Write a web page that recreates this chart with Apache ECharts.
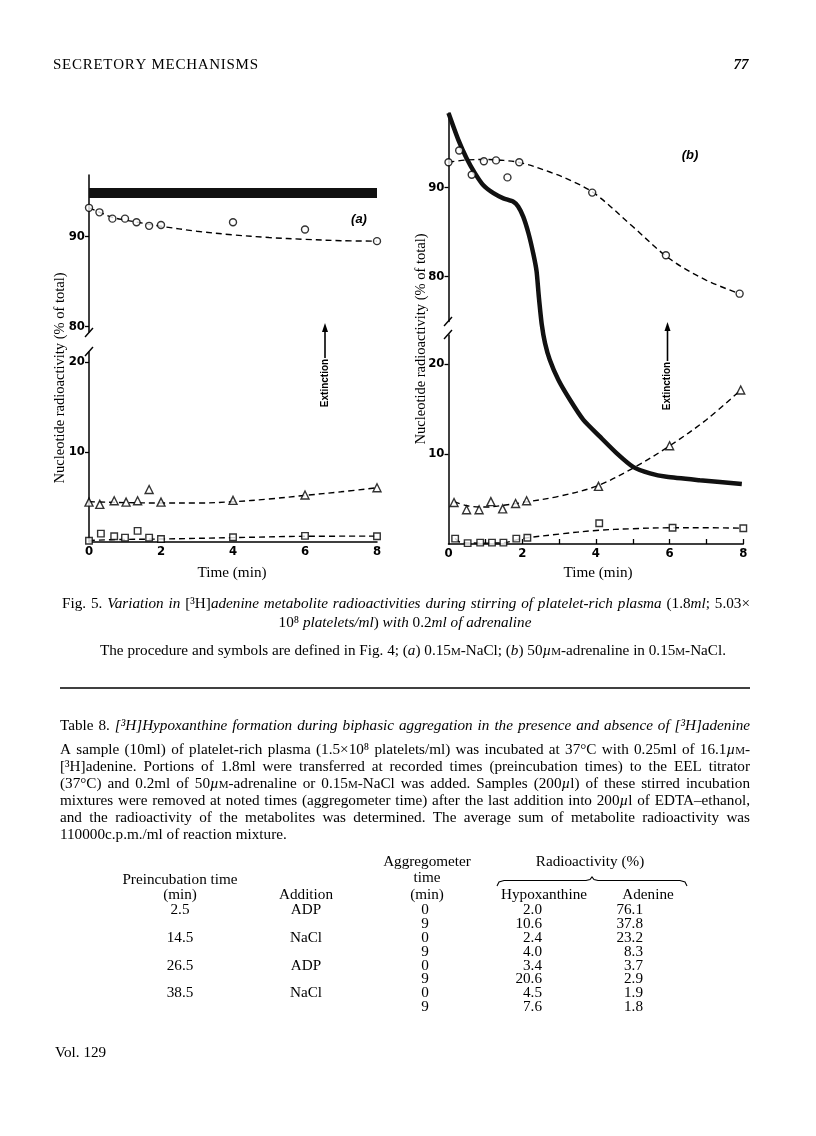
<!DOCTYPE html>
<html>
<head>
<meta charset="utf-8">
<title>Secretory mechanisms - Fig. 5</title>
<script src="https://cdn.jsdelivr.net/npm/echarts@6.0.0/dist/echarts.min.js"></script>
<style>
  html, body { margin: 0; padding: 0; background: #fff; }
  #page { width: 816px; height: 1136px; }
</style>
</head>
<body>
<div id="page"></div>
<script>
// ---------- data ----------
const timeTicks = [0, 2, 4, 6, 8];
const timeMinorTicksB = [1, 2, 3, 4, 5, 6, 7, 8];
const yTicksUpper = [80, 90];
const yTicksLower = [10, 20];

// (a) 0.15M-NaCl
const aCircles = [[0, 93.2], [0.29, 92.7], [0.65, 92.0], [1.0, 92.0], [1.32, 91.6], [1.67, 91.2], [2.0, 91.3], [4.0, 91.6], [6.0, 90.8], [8.0, 89.5]];
const aCircleFit = [[0, 93.2], [0.3, 92.7], [0.65, 92.15], [1.0, 91.85], [1.35, 91.6], [1.7, 91.35], [2.0, 91.15], [3.0, 90.6], [4.0, 90.2], [5.0, 89.9], [6.0, 89.7], [7.0, 89.55], [8.0, 89.5]];
const aTriangles = [[0, 4.4], [0.3, 4.15], [0.7, 4.55], [1.03, 4.4], [1.35, 4.55], [1.67, 5.8], [2.0, 4.4], [4.0, 4.6], [6.0, 5.2], [8.0, 6.0]];
const aTriangleFit = [[0, 4.45], [0.5, 4.4], [1.0, 4.35], [2.0, 4.3], [3.0, 4.3], [4.0, 4.45], [5.0, 4.75], [6.0, 5.15], [7.0, 5.55], [8.0, 6.0]];
const aSquares = [[0, 0.1], [0.33, 0.9], [0.7, 0.6], [1.0, 0.45], [1.35, 1.2], [1.67, 0.45], [2.0, 0.3], [4.0, 0.5], [6.0, 0.65], [8.0, 0.6]];
const aSquareFit = [[0, 0.15], [1.0, 0.25], [2.0, 0.3], [4.0, 0.45], [6.0, 0.6], [8.0, 0.62]];
// extinction trace, % of full panel height
const aExtinction = [[0, 95.1], [2, 95.1], [4, 95.1], [6, 95.1], [8, 95.1]];

// (b) 50uM-adrenaline
const bCircles = [[0, 92.8], [0.29, 94.1], [0.63, 91.4], [0.96, 92.9], [1.29, 93.0], [1.6, 91.1], [1.92, 92.8], [3.9, 89.4], [5.9, 82.4], [7.9, 78.1]];
const bCircleFit = [[0, 92.8], [0.5, 93.05], [1.0, 93.1], [1.5, 93.0], [2.0, 92.7], [2.75, 91.7], [3.4, 90.6], [4.0, 89.2], [5.0, 85.6], [6.0, 82.0], [7.0, 79.6], [7.9, 78.1]];
const bTriangles = [[0.15, 4.6], [0.49, 3.8], [0.83, 3.8], [1.15, 4.7], [1.47, 3.9], [1.82, 4.5], [2.12, 4.8], [4.07, 6.4], [6.0, 10.9], [7.93, 17.1]];
const bTriangleFit = [[0.15, 4.7], [0.5, 4.25], [1.0, 4.1], [1.5, 4.3], [2.0, 4.6], [3.0, 5.3], [4.0, 6.4], [5.0, 8.4], [6.0, 10.9], [7.0, 13.8], [7.93, 17.1]];
const bSquares = [[0.18, 0.6], [0.52, 0.1], [0.86, 0.15], [1.18, 0.15], [1.49, 0.15], [1.84, 0.6], [2.14, 0.7], [4.09, 2.3], [6.08, 1.8], [8.0, 1.75]];
const bSquareFit = [[0.18, 0.6], [0.35, 0.15], [1.0, 0.1], [1.5, 0.15], [2.0, 0.6], [3.0, 1.1], [4.0, 1.5], [5.0, 1.7], [6.0, 1.8], [7.0, 1.8], [8.0, 1.75]];
const bExtinction = [[0, 100], [0.27, 93.7], [0.49, 89.5], [0.72, 86.0], [0.94, 83.3], [1.22, 81.4], [1.49, 80.2], [1.76, 79.4], [1.89, 78.3], [2.03, 75.9], [2.17, 72.1], [2.3, 67.4], [2.39, 63.3], [2.45, 57.5], [2.53, 51.0], [2.62, 46.6], [2.75, 42.7], [2.98, 38.1], [3.3, 33.4], [3.66, 28.8], [4.11, 24.9], [4.56, 21.1], [5.01, 17.9], [5.47, 16.4], [5.92, 15.6], [6.82, 14.8], [7.96, 13.9]];

// Table 8
const preincubation = ['2.5', '14.5', '26.5', '38.5'];
const additions = ['ADP', 'NaCl', 'ADP', 'NaCl'];
const aggTimes = [0, 9, 0, 9, 0, 9, 0, 9];
const hypoxanthine = [2.0, 10.6, 2.4, 4.0, 3.4, 20.6, 4.5, 7.6];
const adenine = [76.1, 37.8, 23.2, 8.3, 3.7, 2.9, 1.9, 1.8];

// ---------- text ----------
const caption = [
  'Fig. 5. {i|Variation in} [³H]{i|adenine metabolite radioactivities during stirring of platelet-rich plasma} (1.8{i|ml}; 5.03×',
  '10⁸ {i|platelets/ml}) {i|with} 0.2{i|ml of adrenaline}'
];
const captionNote = 'The procedure and symbols are defined in Fig. 4; ({i|a}) 0.15{sc|M}-NaCl; ({i|b}) 50{i|µ}{sc|M}-adrenaline in 0.15{sc|M}-NaCl.';
const tableTitle = 'Table 8. {i|[³H]Hypoxanthine formation during biphasic aggregation in the presence and absence of [³H]adenine}';
const tableLegend = [
  'A sample (10ml) of platelet-rich plasma (1.5×10⁸ platelets/ml) was incubated at 37°C with 0.25ml of 16.1{i|µ}{sc|M}-',
  '[³H]adenine. Portions of 1.8ml were transferred at recorded times (preincubation times) to the EEL titrator',
  '(37°C) and 0.2ml of 50{i|µ}{sc|M}-adrenaline or 0.15{sc|M}-NaCl was added. Samples (200{i|µ}l) of these stirred incubation',
  'mixtures were removed at noted times (aggregometer time) after the last addition into 200{i|µ}l of EDTA–ethanol,',
  'and the radioactivity of the metabolites was determined. The average sum of metabolite radioactivity was',
  '110000c.p.m./ml of reaction mixture.'
];

const SERIF = '"Liberation Serif", "DejaVu Serif", serif';
const SANS = '"Liberation Sans", "DejaVu Sans", sans-serif';
const NARROW = '"Liberation Sans Narrow", "DejaVu Sans Condensed", "Liberation Sans", sans-serif';
const BODY = 15.2;
const BASE = { fontFamily: SERIF, fontSize: BODY, lineHeight: 17 };
const RICH = {
  i: { fontFamily: SERIF, fontSize: BODY, fontStyle: 'italic', lineHeight: 17 },
  sc: { fontFamily: SERIF, fontSize: 11, height: 14, lineHeight: 17, verticalAlign: 'bottom' }
};

// measure words so lines can be justified like the printed page
const mctx = document.createElement('canvas').getContext('2d');
function cssFont(st) {
  return [st.fontStyle || '', st.fontWeight || '', st.fontSize + 'px', st.fontFamily].join(' ').trim();
}
function measure(t, st) {
  mctx.font = cssFont(st);
  return mctx.measureText(t).width;
}
function textWidth(t, s) {
  return measure(t, s ? RICH[s] : BASE);
}
function parseRuns(str) {
  const runs = [];
  const re = /\{(\w+)\|([^}]*)\}/g;
  let last = 0, m;
  while ((m = re.exec(str))) {
    if (m.index > last) runs.push({ s: '', t: str.slice(last, m.index) });
    runs.push({ s: m[1], t: m[2] });
    last = re.lastIndex;
  }
  if (last < str.length) runs.push({ s: '', t: str.slice(last) });
  return runs;
}
function toWords(runs) {
  const words = [[]];
  runs.forEach(r => {
    r.t.split(' ').forEach((piece, i) => {
      if (i > 0) words.push([]);
      if (piece) words[words.length - 1].push({ s: r.s, t: piece });
    });
  });
  return words.filter(w => w.length);
}
// opt: {x0, x1} justified, {cx} centred, {x} left
function textLine(str, y, opt) {
  const words = toWords(parseRuns(str));
  const widths = words.map(w => w.reduce((a, p) => a + textWidth(p.t, p.s), 0));
  const total = widths.reduce((a, b) => a + b, 0);
  const space = textWidth(' ', '');
  let gap = space, x;
  if (opt.x1 != null) {
    x = opt.x0;
    gap = words.length > 1 ? (opt.x1 - opt.x0 - total) / (words.length - 1) : 0;
  } else if (opt.cx != null) {
    x = opt.cx - (total + space * (words.length - 1)) / 2;
  } else {
    x = opt.x;
  }
  return words.map((w, i) => {
    const el = {
      type: 'text', x: x, y: y, silent: true,
      style: Object.assign({
        text: w.map(p => p.s ? '{' + p.s + '|' + p.t + '}' : p.t).join(''),
        rich: RICH, fill: '#000', align: 'left', verticalAlign: 'middle'
      }, BASE)
    };
    x += widths[i] + gap;
    return el;
  });
}
// letter-spaced caps for the running head
function tracked(text, x0, x1, y, st) {
  const chars = Array.from(text);
  const widths = chars.map(c => measure(c, st));
  const total = widths.reduce((a, b) => a + b, 0);
  const gap = (x1 - x0 - total) / (chars.length - 1);
  let x = x0;
  return chars.map((c, i) => {
    const el = { type: 'text', x: x, y: y, silent: true, style: Object.assign({ text: c, fill: '#000', align: 'left', verticalAlign: 'middle' }, st) };
    x += widths[i] + gap;
    return el;
  });
}
function plainText(text, x, y, align, extra) {
  return {
    type: 'text', x: x, y: y, silent: true,
    style: Object.assign({ text: text, fill: '#000', align: align, verticalAlign: 'middle' }, BASE, extra || {})
  };
}
function seg(x1, y1, x2, y2, w) {
  return { type: 'line', silent: true, shape: { x1, y1, x2, y2 }, style: { stroke: '#000', lineWidth: w || 1.4 } };
}
function arrowUp(x, yTop, yBottom) {
  return [
    seg(x, yBottom, x, yTop + 6, 1.6),
    { type: 'polygon', silent: true, shape: { points: [[x, yTop], [x - 3, yTop + 9], [x + 3, yTop + 9]] }, style: { fill: '#000' } }
  ];
}

// ---------- chart ----------
const chart = echarts.init(document.getElementById('page'), null, { renderer: 'canvas' });

const axisLine = { show: true, onZero: false, lineStyle: { color: '#000', width: 1.5 } };
const tickLabel = { color: '#000', fontFamily: NARROW, fontWeight: 'bold', fontSize: 13 };

function grid(left, top, width, height) {
  return { left, top, width, height, containLabel: false, outerBoundsMode: 'none' };
}
function hiddenAxis(gridIndex, min, max) {
  return { type: 'value', gridIndex, min, max, show: false, splitLine: { show: false } };
}
function yAxisVisible(gridIndex, min, max, ticks) {
  return {
    type: 'value', gridIndex, min, max,
    axisLine: axisLine,
    axisTick: { show: true, length: 4, customValues: ticks, lineStyle: { color: '#000', width: 1.3 } },
    axisLabel: Object.assign({ customValues: ticks, margin: 4 }, tickLabel),
    splitLine: { show: false }
  };
}
function xAxisVisible(gridIndex, minorTicks) {
  return {
    type: 'value', gridIndex, min: 0, max: 8,
    axisLine: axisLine,
    axisTick: minorTicks ? { show: true, inside: true, length: 5, customValues: minorTicks, lineStyle: { color: '#000', width: 1.3 } } : { show: false },
    axisLabel: Object.assign({ customValues: timeTicks, margin: 3 }, tickLabel),
    splitLine: { show: false }
  };
}
function fit(data, axis) {
  return {
    type: 'line', xAxisIndex: axis, yAxisIndex: axis, data, smooth: 0.35,
    symbol: 'none', lineStyle: { color: '#000', width: 1.4, type: [6, 4] }, z: 2
  };
}
function marks(data, axis, symbol, size) {
  return {
    type: 'scatter', xAxisIndex: axis, yAxisIndex: axis, data, symbol, symbolSize: size,
    itemStyle: { color: '#fff', borderColor: '#000', borderWidth: 1.4 }, z: 4
  };
}
function trace(data, axis, width) {
  return {
    type: 'line', xAxisIndex: axis, yAxisIndex: axis, data, smooth: 0.2,
    symbol: 'none', lineStyle: { color: '#111', width: width, cap: 'butt' }, z: 3
  };
}

// grids: 0 a-upper, 1 a-lower, 2 a-extinction, 3 b-upper, 4 b-lower, 5 b-extinction
const option = {
  animation: false,
  backgroundColor: '#fff',
  grid: [
    grid(89, 175, 288, 157),
    grid(89, 352, 288, 189.7),
    grid(89, 175, 288, 366.7),
    grid(448.5, 113, 294.8, 208.4),
    grid(448.5, 335, 294.8, 209),
    grid(448.5, 113, 294.8, 431)
  ],
  xAxis: [
    hiddenAxis(0, 0, 8),
    xAxisVisible(1, null),
    hiddenAxis(2, 0, 8),
    hiddenAxis(3, 0, 8),
    xAxisVisible(4, timeMinorTicksB),
    hiddenAxis(5, 0, 8)
  ],
  yAxis: [
    yAxisVisible(0, 79.4, 96.85, yTicksUpper),
    yAxisVisible(1, 0, 21.1, yTicksLower),
    hiddenAxis(2, 0, 100),
    yAxisVisible(3, 75, 98.3, yTicksUpper),
    yAxisVisible(4, 0, 23.2, yTicksLower),
    hiddenAxis(5, 0, 100)
  ],
  series: [
    trace(aExtinction, 2, 10),
    fit(aCircleFit, 0), marks(aCircles, 0, 'circle', 7),
    fit(aTriangleFit, 1), marks(aTriangles, 1, 'triangle', 8),
    fit(aSquareFit, 1), marks(aSquares, 1, 'rect', 6.5),
    trace(bExtinction, 5, 4.5),
    fit(bCircleFit, 3), marks(bCircles, 3, 'circle', 7),
    fit(bTriangleFit, 4), marks(bTriangles, 4, 'triangle', 8),
    fit(bSquareFit, 4), marks(bSquares, 4, 'rect', 6.5)
  ],
  graphic: { elements: [] }
};

const g = option.graphic.elements;

// running head
g.push(...tracked('SECRETORY MECHANISMS', 53, 258, 65, { fontFamily: SERIF, fontSize: 15 }));
g.push(plainText('77', 741, 65, 'center', { fontWeight: 'bold', fontStyle: 'italic', fontSize: 15 }));

// axis breaks
g.push(seg(85, 337, 93, 328), seg(85, 356, 93, 347));
g.push(seg(444, 326, 452, 317), seg(444, 339, 452, 330));

// axis titles and labels inside the panels
const yTitle = 'Nucleotide radioactivity (% of total)';
[[60, 378], [421.5, 339]].forEach(([x, y]) => {
  const t = plainText(yTitle, x, y, 'center', { fontSize: 14.5 });
  t.rotation = Math.PI / 2;
  g.push(t);
});
g.push(plainText('Time (min)', 232, 573, 'center'));
g.push(plainText('Time (min)', 598, 573, 'center'));
g.push(plainText('(a)', 359, 219, 'center', { fontFamily: SANS, fontWeight: 'bold', fontStyle: 'italic', fontSize: 13 }));
g.push(plainText('(b)', 690, 155, 'center', { fontFamily: SANS, fontWeight: 'bold', fontStyle: 'italic', fontSize: 13 }));

// extinction arrows
[[325, 383, 323], [667.5, 386, 322]].forEach(([x, yc, yTop]) => {
  const t = plainText('Extinction', x, yc, 'center', { fontFamily: SANS, fontWeight: 'bold', fontSize: 10 });
  t.rotation = Math.PI / 2;
  g.push(t);
  g.push(...arrowUp(x, yTop, yc - 25));
});

// figure legend
g.push(...textLine(caption[0], 604, { x0: 62, x1: 750 }));
g.push(...textLine(caption[1], 623, { cx: 405 }));
g.push(...textLine(captionNote, 651, { cx: 413 }));

// rule
g.push(seg(60, 688, 750, 688, 1.3));

// table title and legend
g.push(...textLine(tableTitle, 726, { x0: 60, x1: 750 }));
tableLegend.forEach((line, i) => {
  const y = 750 + i * 17;
  const last = i === tableLegend.length - 1;
  g.push(...textLine(line, y, last ? { x: 60 } : { x0: 60, x1: 750 }));
});

// table head
const colPre = 180, colAdd = 306, colAgg = 427, colHyp = 544, colAde = 648;
g.push(plainText('Aggregometer', colAgg, 862, 'center'));
g.push(plainText('Radioactivity (%)', 590, 862, 'center'));
g.push(plainText('Preincubation time', colPre, 880, 'center'));
g.push(plainText('time', colAgg, 878, 'center'));
g.push(plainText('(min)', colPre, 895, 'center'));
g.push(plainText('Addition', colAdd, 895, 'center'));
g.push(plainText('(min)', colAgg, 895, 'center'));
g.push(plainText('Hypoxanthine', colHyp, 895, 'center'));
g.push(plainText('Adenine', colAde, 895, 'center'));
g.push({
  type: 'polyline', silent: true,
  shape: { points: [[497, 886], [499, 882], [504, 880.5], [586, 880.5], [590, 879.5], [592, 877], [594, 879.5], [598, 880.5], [680, 880.5], [685, 882], [687, 886]] },
  style: { stroke: '#000', lineWidth: 1.1, fill: null }
});

// table body
const rowY = i => 910 + i * 13.9;
preincubation.forEach((v, i) => {
  g.push(plainText(v, colPre, rowY(i * 2), 'center'));
  g.push(plainText(additions[i], colAdd, rowY(i * 2), 'center'));
});
aggTimes.forEach((v, i) => {
  g.push(plainText(String(v), 425, rowY(i), 'center'));
  g.push(plainText(hypoxanthine[i].toFixed(1), 542, rowY(i), 'right'));
  g.push(plainText(adenine[i].toFixed(1), 643, rowY(i), 'right'));
});

// folio
g.push(plainText('Vol. 129', 55, 1053, 'left'));

chart.setOption(option);
window.addEventListener('resize', function () {
  chart.resize();
});
</script>
</body>
</html>
